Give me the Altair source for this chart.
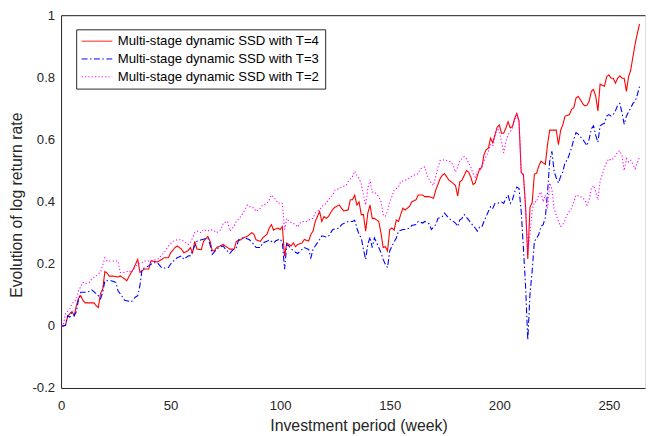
import altair as alt
import pandas as pd

# ---------------- data ----------------
series_names = [
    "Multi-stage dynamic SSD with T=4",
    "Multi-stage dynamic SSD with T=3",
    "Multi-stage dynamic SSD with T=2",
]
series_colors = ["#ff0000", "#0000ff", "#ff00ff"]
series_dashes = [[1, 0], [6, 2.5, 1.5, 2.5], [1.2, 2.2]]

x_ticks = [0, 50, 100, 150, 200, 250]
y_ticks = [-0.2, 0, 0.2, 0.4, 0.6, 0.8, 1]

t4_week = [0, 1, 2, 3, 4, 5, 6, 7, 8, 9, 10, 11, 13, 15, 16, 17, 18, 19, 20, 21, 22, 24, 26, 27, 29, 30,
           32, 33, 35, 36, 38, 40, 41, 44, 46, 47, 49, 50, 52, 53, 55, 56, 58, 59, 60, 61, 62, 64, 65, 67,
           68, 69, 70, 71, 73, 74, 76, 77, 79, 80, 82, 83, 85, 87, 88, 89, 91, 92, 94, 95, 96, 97, 98, 99,
           100, 101, 102, 103, 104, 105, 106, 107, 108, 110, 111, 113, 114, 115, 116, 118, 119, 120, 121,
           122, 124, 125, 127, 128, 129, 131, 132, 133, 134, 135, 136, 137, 138, 139, 140, 141, 142, 143,
           145, 146, 147, 148, 149, 150, 151, 152, 153, 154, 155, 156, 157, 159, 160, 162, 163, 165, 166,
           168, 170, 171, 173, 174, 175, 177, 178, 180, 181, 182, 183, 185, 186, 187, 188, 189, 191, 192,
           193, 194, 195, 196, 197, 198, 199, 200, 201, 202, 203, 204, 205, 206, 207, 208, 209, 210, 211,
           212, 213, 214, 215, 216, 217, 218, 219, 221, 222, 223, 225, 226, 227, 228, 229, 230, 231, 232,
           233, 234, 235, 236, 237, 238, 239, 240, 241, 242, 243, 244, 245, 246, 247, 248, 249, 250, 251,
           252, 253, 254, 255, 256, 257, 258, 259, 260, 261, 262, 263, 264]
t4_value = [0.0, 0.0, 0.002, 0.030, 0.039, 0.046, 0.033, 0.065, 0.089, 0.097, 0.082, 0.074, 0.074, 0.074,
            0.065, 0.059, 0.104, 0.118, 0.175, 0.170, 0.160, 0.160, 0.157, 0.161, 0.151, 0.145, 0.172,
            0.183, 0.214, 0.172, 0.183, 0.183, 0.209, 0.206, 0.214, 0.219, 0.219, 0.235, 0.252, 0.257,
            0.247, 0.235, 0.242, 0.252, 0.235, 0.272, 0.247, 0.245, 0.272, 0.288, 0.272, 0.242, 0.242,
            0.252, 0.259, 0.262, 0.252, 0.247, 0.247, 0.272, 0.277, 0.283, 0.288, 0.300, 0.295, 0.277,
            0.272, 0.283, 0.295, 0.315, 0.326, 0.308, 0.312, 0.315, 0.310, 0.320, 0.224, 0.267, 0.262,
            0.257, 0.267, 0.255, 0.262, 0.267, 0.278, 0.273, 0.294, 0.305, 0.336, 0.368, 0.336, 0.352,
            0.346, 0.352, 0.375, 0.382, 0.389, 0.378, 0.370, 0.373, 0.406, 0.406, 0.421, 0.389, 0.399,
            0.358, 0.358, 0.305, 0.363, 0.389, 0.346, 0.346, 0.336, 0.299, 0.252, 0.255, 0.241, 0.310,
            0.315, 0.308, 0.341, 0.336, 0.358, 0.379, 0.373, 0.384, 0.399, 0.406, 0.421, 0.421, 0.416,
            0.416, 0.411, 0.437, 0.474, 0.485, 0.490, 0.469, 0.464, 0.452, 0.418, 0.464, 0.469, 0.500,
            0.495, 0.479, 0.455, 0.460, 0.506, 0.509, 0.551, 0.567, 0.572, 0.604, 0.589, 0.615, 0.639,
            0.647, 0.620, 0.620, 0.637, 0.657, 0.637, 0.642, 0.668, 0.684, 0.659, 0.493, 0.488, 0.382,
            0.215, 0.382, 0.397, 0.488, 0.491, 0.514, 0.530, 0.520, 0.583, 0.630, 0.630, 0.630, 0.583,
            0.630, 0.647, 0.675, 0.677, 0.680, 0.697, 0.702, 0.733, 0.739, 0.728, 0.716, 0.708, 0.710,
            0.723, 0.755, 0.761, 0.739, 0.692, 0.778, 0.774, 0.771, 0.802, 0.808, 0.797, 0.797, 0.781,
            0.797, 0.805, 0.797, 0.797, 0.755, 0.802, 0.824, 0.867, 0.908, 0.941, 0.972]

t3_week = [0, 1, 2, 3, 4, 5, 6, 7, 8, 9, 11, 12, 14, 15, 17, 18, 19, 20, 21, 23, 25, 26, 28, 29, 31, 32,
           34, 35, 36, 37, 38, 40, 42, 44, 46, 48, 49, 50, 52, 53, 55, 56, 58, 59, 61, 62, 64, 65, 67, 68,
           69, 71, 72, 74, 75, 77, 78, 80, 81, 83, 84, 86, 88, 89, 91, 92, 94, 95, 97, 98, 100, 101, 102,
           103, 104, 105, 107, 108, 110, 111, 113, 114, 115, 116, 118, 119, 121, 122, 124, 125, 127, 128,
           130, 131, 133, 134, 135, 136, 137, 138, 139, 140, 141, 142, 143, 145, 146, 147, 148, 149, 150,
           151, 153, 154, 156, 157, 159, 160, 162, 163, 165, 166, 168, 169, 171, 172, 174, 175, 177, 178,
           180, 181, 182, 183, 184, 186, 187, 189, 190, 191, 192, 193, 194, 195, 196, 197, 198, 199, 201,
           202, 203, 204, 205, 206, 207, 208, 209, 210, 211, 212, 213, 214, 215, 216, 217, 218, 219, 220,
           221, 222, 223, 224, 225, 226, 227, 228, 229, 230, 231, 232, 233, 234, 235, 236, 238, 239, 240,
           241, 242, 243, 244, 245, 246, 247, 248, 249, 250, 251, 252, 253, 254, 255, 256, 257, 258, 260,
           261, 262, 263, 264]
t3_value = [0.0, 0.0, 0.002, 0.033, 0.028, 0.043, 0.033, 0.046, 0.087, 0.108, 0.108, 0.108, 0.116, 0.110,
            0.097, 0.087, 0.108, 0.145, 0.145, 0.145, 0.140, 0.113, 0.093, 0.082, 0.079, 0.077, 0.093,
            0.097, 0.130, 0.183, 0.186, 0.193, 0.203, 0.203, 0.186, 0.186, 0.188, 0.199, 0.214, 0.219,
            0.225, 0.214, 0.225, 0.226, 0.257, 0.272, 0.277, 0.279, 0.283, 0.262, 0.230, 0.247, 0.252,
            0.257, 0.247, 0.233, 0.242, 0.252, 0.277, 0.283, 0.283, 0.277, 0.262, 0.252, 0.252, 0.267,
            0.272, 0.277, 0.267, 0.274, 0.280, 0.267, 0.182, 0.262, 0.257, 0.248, 0.237, 0.233, 0.246,
            0.252, 0.246, 0.219, 0.246, 0.257, 0.278, 0.290, 0.286, 0.288, 0.310, 0.312, 0.315, 0.326,
            0.333, 0.336, 0.336, 0.340, 0.315, 0.294, 0.283, 0.246, 0.214, 0.262, 0.286, 0.252, 0.283,
            0.252, 0.235, 0.214, 0.198, 0.188, 0.241, 0.257, 0.283, 0.305, 0.310, 0.310, 0.315, 0.323,
            0.326, 0.336, 0.331, 0.336, 0.328, 0.310, 0.326, 0.346, 0.352, 0.363, 0.346, 0.341, 0.331,
            0.320, 0.341, 0.346, 0.358, 0.341, 0.331, 0.315, 0.305, 0.318, 0.318, 0.336, 0.352, 0.368,
            0.384, 0.378, 0.394, 0.394, 0.399, 0.394, 0.410, 0.421, 0.394, 0.406, 0.431, 0.447, 0.442,
            0.368, 0.251, 0.125, -0.045, 0.103, 0.177, 0.272, 0.282, 0.294, 0.320, 0.326, 0.348, 0.430,
            0.530, 0.562, 0.498, 0.476, 0.460, 0.481, 0.496, 0.527, 0.533, 0.553, 0.574, 0.601, 0.622,
            0.617, 0.601, 0.591, 0.580, 0.601, 0.634, 0.644, 0.613, 0.591, 0.644, 0.649, 0.652, 0.675,
            0.680, 0.675, 0.680, 0.692, 0.710, 0.716, 0.685, 0.649, 0.675, 0.702, 0.716, 0.723, 0.744,
            0.771]

t2_week = [0, 1, 2, 4, 5, 7, 8, 10, 11, 13, 14, 16, 18, 20, 21, 23, 26, 27, 29, 31, 32, 35, 37, 38, 41,
           44, 47, 49, 51, 53, 55, 56, 58, 59, 61, 62, 64, 65, 67, 68, 70, 71, 73, 74, 76, 77, 79, 80, 82,
           83, 85, 86, 88, 89, 91, 92, 94, 95, 96, 98, 99, 100, 101, 102, 103, 104, 105, 107, 108, 109,
           110, 112, 113, 115, 116, 118, 119, 121, 122, 124, 125, 127, 128, 130, 131, 133, 134, 135, 136,
           137, 138, 139, 140, 141, 142, 143, 145, 146, 147, 148, 149, 150, 151, 152, 154, 155, 157, 158,
           160, 161, 163, 164, 166, 167, 169, 170, 172, 173, 175, 176, 178, 179, 180, 181, 182, 184, 185,
           187, 188, 189, 190, 191, 192, 194, 195, 196, 197, 199, 200, 201, 202, 203, 204, 205, 206, 207,
           208, 209, 210, 211, 212, 213, 214, 215, 216, 217, 218, 219, 220, 221, 222, 223, 224, 225, 226,
           227, 228, 229, 230, 231, 232, 233, 234, 235, 237, 238, 239, 240, 241, 242, 243, 244, 245, 246,
           247, 248, 249, 250, 251, 252, 253, 254, 255, 256, 257, 258, 259, 260, 262, 263, 264]
t2_value = [0.0, 0.002, 0.039, 0.055, 0.071, 0.087, 0.113, 0.140, 0.135, 0.140, 0.151, 0.161, 0.172,
            0.219, 0.209, 0.209, 0.209, 0.172, 0.172, 0.177, 0.172, 0.199, 0.203, 0.209, 0.209, 0.214,
            0.235, 0.257, 0.272, 0.277, 0.277, 0.272, 0.262, 0.267, 0.300, 0.305, 0.300, 0.310, 0.305,
            0.310, 0.305, 0.300, 0.310, 0.331, 0.336, 0.305, 0.321, 0.336, 0.352, 0.363, 0.389, 0.384,
            0.379, 0.368, 0.379, 0.389, 0.394, 0.406, 0.421, 0.406, 0.394, 0.396, 0.394, 0.310, 0.346,
            0.336, 0.333, 0.326, 0.318, 0.331, 0.336, 0.336, 0.341, 0.346, 0.363, 0.373, 0.384, 0.394,
            0.406, 0.421, 0.437, 0.442, 0.447, 0.452, 0.464, 0.481, 0.498, 0.485, 0.474, 0.458, 0.421,
            0.389, 0.442, 0.471, 0.431, 0.431, 0.416, 0.399, 0.358, 0.352, 0.369, 0.399, 0.416, 0.437,
            0.447, 0.464, 0.469, 0.471, 0.481, 0.485, 0.490, 0.505, 0.511, 0.485, 0.458, 0.452, 0.511,
            0.532, 0.535, 0.532, 0.527, 0.516, 0.495, 0.511, 0.532, 0.545, 0.538, 0.511, 0.490, 0.479,
            0.495, 0.498, 0.514, 0.546, 0.562, 0.583, 0.578, 0.637, 0.626, 0.593, 0.557, 0.593, 0.615,
            0.626, 0.637, 0.663, 0.679, 0.657, 0.498, 0.481, 0.378, 0.241, 0.294, 0.373, 0.399, 0.399,
            0.421, 0.431, 0.399, 0.421, 0.378, 0.460, 0.440, 0.378, 0.357, 0.336, 0.320, 0.326, 0.341,
            0.358, 0.369, 0.379, 0.399, 0.421, 0.416, 0.411, 0.406, 0.389, 0.406, 0.442, 0.452, 0.431,
            0.406, 0.466, 0.486, 0.511, 0.527, 0.538, 0.533, 0.538, 0.548, 0.559, 0.564, 0.548, 0.500,
            0.538, 0.527, 0.533, 0.506, 0.527, 0.543]

# ---------------- table ----------------
frames = []
for name, wk, val in zip(series_names, [t4_week, t3_week, t2_week], [t4_value, t3_value, t2_value]):
    frames.append(pd.DataFrame({"week": wk, "value": val, "series": name}))
df = pd.concat(frames, ignore_index=True)

FONT = "Liberation Sans"
AX = "#262626"

x_scale = alt.Scale(domain=[0, 266.5], nice=False, zero=False)
y_scale = alt.Scale(domain=[-0.2, 1], nice=False, zero=False)

y_axis = alt.Axis(
    values=y_ticks,
    labelExpr="datum.value < 0 ? '-' + format(-datum.value, '~g') : format(datum.value, '~g')",
    ticks=False,
    grid=False,
    labelFont=FONT,
    labelFontSize=13.33,
    labelColor=AX,
    labelPadding=6.5,
    domainColor=AX,
    domainWidth=1,
    title="Evolution of log return rate",
    titleFont=FONT,
    titleFontSize=16,
    titleFontWeight="normal",
    titleColor=AX,
    titleX=-45,
    titleY=191.8,
    titleBaseline="middle",
)

legend = alt.Legend(
    title=None,
    orient="none",
    legendX=15.3,
    legendY=14.3,
    symbolType="stroke",
    symbolSize=961,
    symbolStrokeWidth=1,
    clipHeight=14,
    rowPadding=4,
    padding=5,
    labelOffset=5,
    labelLimit=0,
    labelFont=FONT,
    labelFontSize=13.33,
    labelColor="#000000",
    strokeColor=AX,
    fillColor="#ffffff",
)

base = alt.Chart(df)

lines = base.mark_line(strokeWidth=1.1).encode(
    x=alt.X(
        "week:Q",
        scale=x_scale,
        axis=alt.Axis(
            values=x_ticks,
            ticks=False,
            grid=False,
            labelFlush=False,
            labelOverlap=False,
            labelFont=FONT,
            labelFontSize=13.33,
            labelColor=AX,
            labelPadding=11,
            domainColor=AX,
            domainWidth=1,
            title="Investment period (week)",
            titleFont=FONT,
            titleFontSize=16,
            titleFontWeight="normal",
            titleColor=AX,
            titleX=301,
            titleY=38,
            titleBaseline="middle",
        ),
    ),
    y=alt.Y("value:Q", scale=y_scale, axis=y_axis),
    color=alt.Color("series:N", scale=alt.Scale(domain=series_names, range=series_colors), legend=legend),
    strokeDash=alt.StrokeDash("series:N", scale=alt.Scale(domain=series_names, range=series_dashes), legend=legend),
)

top_frame = base.mark_point(opacity=0).encode(
    x=alt.X(
        "week:Q",
        scale=x_scale,
        axis=alt.Axis(orient="top", labels=False, ticks=False, grid=False, domainColor=AX, domainWidth=1, title=None),
    ),
    y=alt.Y("value:Q", scale=y_scale, axis=y_axis),
)

chart = (
    alt.layer(lines, top_frame)
    .resolve_axis(x="independent")
    .properties(
        width=591,
        height=377.3,
        autosize=alt.AutoSizeParams(type="none"),
        padding={"left": 53.7, "top": 4.7, "right": 2, "bottom": 46},
        background="#ffffff",
    )
    .configure_view(stroke=None)
    .configure(font=FONT)
)

chart.save("out.html", embed_options={"renderer": "svg", "actions": False})
